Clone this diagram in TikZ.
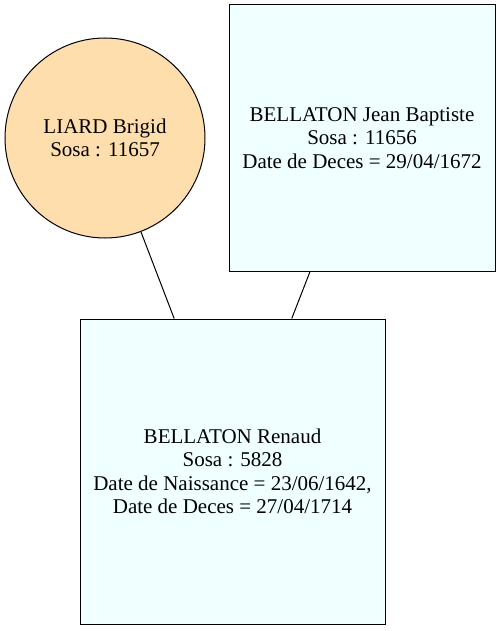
\documentclass[tikz,border=0pt]{standalone}
\usepackage{fontspec}
\setmainfont{Liberation Serif}
\definecolor{WomanClr}{rgb}{1,0.871,0.678}
\definecolor{ManClr}{rgb}{0.941,1,1}

\begin{document}
\begin{tikzpicture}[x=1pt,y=-1pt,
  person/.style={draw=black,line width=1pt,align=center,inner sep=0pt,
    font=\fontsize{21}{23.5}\selectfont},
  woman/.style={person,circle,fill=WomanClr,minimum size=200pt},
  man/.style={person,rectangle,fill=ManClr}]
\useasboundingbox (0,0) rectangle (501,631);

\node[woman] (liard) at (105,138) {LIARD Brigid\\Sosa : 11657};
\node[man,minimum width=266pt,minimum height=266pt] (jean) at (362,138)
  {BELLATON Jean Baptiste\\Sosa : 11656\\Date de Deces = 29/04/1672};
\node[man,minimum width=305pt,minimum height=305pt] (renaud) at (232.5,471.5)
  {BELLATON Renaud\\Sosa : 5828\\Date de Naissance = 23/06/1642,\\Date de Deces = 27/04/1714};

\draw[line width=1pt] (liard) -- (renaud);
\draw[line width=1pt] (jean) -- (renaud);

\end{tikzpicture}
\end{document}
